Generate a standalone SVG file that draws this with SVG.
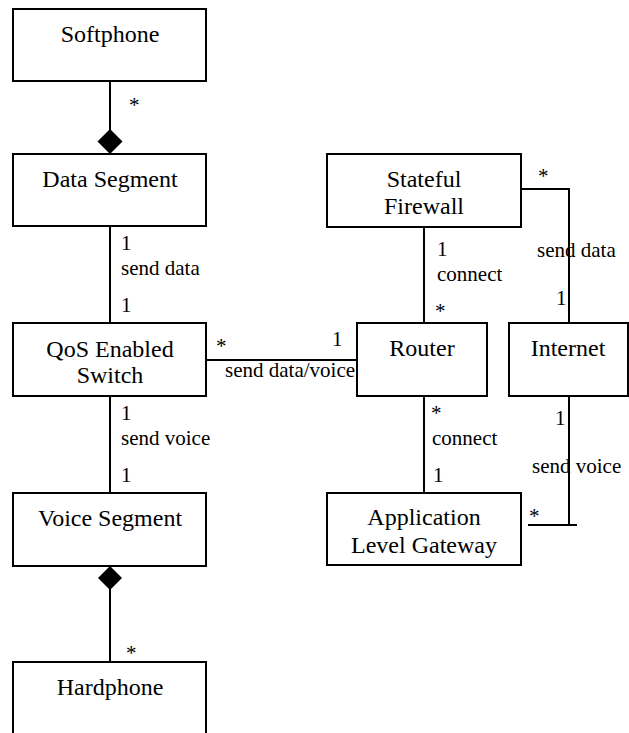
<svg xmlns="http://www.w3.org/2000/svg" width="629" height="733" viewBox="0 0 629 733">
<style>
.box{fill:#fff;stroke:#000;stroke-width:2}
.t{font-size:24px;fill:#000;text-anchor:middle}
.l{font-size:21px;fill:#000}
.c{fill:none;stroke:#000;stroke-width:2}
.d{fill:#000;stroke:none}
</style>
<rect width="629" height="733" fill="#fff"/>
<g id="connectors" font-family="Liberation Serif, serif">
<line class="c" x1="110" y1="81" x2="110" y2="130"/>
<polygon class="d" points="110,129 122.5,141.5 110,154 97.5,141.5"/>
<line class="c" x1="110" y1="226" x2="110" y2="323"/>
<line class="c" x1="110" y1="396" x2="110" y2="493"/>
<polygon class="d" points="110,566 122,578 110,590 98,578"/>
<line class="c" x1="110" y1="589" x2="110" y2="662"/>
<line class="c" x1="206" y1="360" x2="357" y2="360"/>
<line class="c" x1="424" y1="227" x2="424" y2="323"/>
<line class="c" x1="424" y1="396" x2="424" y2="493"/>
<polyline class="c" points="521,189 569,189 569,323"/>
<line class="c" x1="569" y1="396" x2="569" y2="525"/>
<line class="c" x1="528" y1="525" x2="577" y2="525"/>
<text class="l" x="129" y="112">*</text>
<text class="l" x="121" y="250">1</text>
<text class="l" x="121" y="275">send data</text>
<text class="l" x="121" y="312">1</text>
<text class="l" x="121" y="420">1</text>
<text class="l" x="121" y="445">send voice</text>
<text class="l" x="121" y="482">1</text>
<text class="l" x="126" y="660">*</text>
<text class="l" x="216" y="353">*</text>
<text class="l" x="332" y="346">1</text>
<text class="l" x="225" y="377">send data/voice</text>
<text class="l" x="437" y="256">1</text>
<text class="l" x="437" y="281">connect</text>
<text class="l" x="435" y="318">*</text>
<text class="l" x="538" y="183">*</text>
<text class="l" x="537" y="257">send data</text>
<text class="l" x="556" y="305">1</text>
<text class="l" x="431" y="420">*</text>
<text class="l" x="432" y="445">connect</text>
<text class="l" x="433" y="482">1</text>
<text class="l" x="555" y="425">1</text>
<text class="l" x="532" y="473">send voice</text>
<text class="l" x="529" y="523">*</text>
</g>
<g font-family="Liberation Serif, serif">
<g id="softphone"><rect class="box" x="13" y="9" width="193" height="72"/><text class="t" x="110" y="42">Softphone</text></g>
<g id="data-segment"><rect class="box" x="13" y="154" width="193" height="72"/><text class="t" x="110" y="187">Data Segment</text></g>
<g id="qos-switch"><rect class="box" x="13" y="323" width="193" height="73"/><text class="t" x="110" y="357">QoS Enabled</text><text class="t" x="110" y="383">Switch</text></g>
<g id="voice-segment"><rect class="box" x="13" y="493" width="193" height="73"/><text class="t" x="110" y="526">Voice Segment</text></g>
<g id="hardphone"><rect class="box" x="13" y="662" width="193" height="90"/><text class="t" x="110" y="695">Hardphone</text></g>
<g id="firewall"><rect class="box" x="327" y="154" width="194" height="73"/><text class="t" x="424" y="187">Stateful</text><text class="t" x="424" y="214">Firewall</text></g>
<g id="router"><rect class="box" x="357" y="323" width="130" height="73"/><text class="t" x="422" y="356">Router</text></g>
<g id="internet"><rect class="box" x="509" y="323" width="119" height="73"/><text class="t" x="568" y="356">Internet</text></g>
<g id="alg"><rect class="box" x="327" y="493" width="194" height="72"/><text class="t" x="424" y="525">Application</text><text class="t" x="424" y="553">Level Gateway</text></g>
</g>
</svg>
